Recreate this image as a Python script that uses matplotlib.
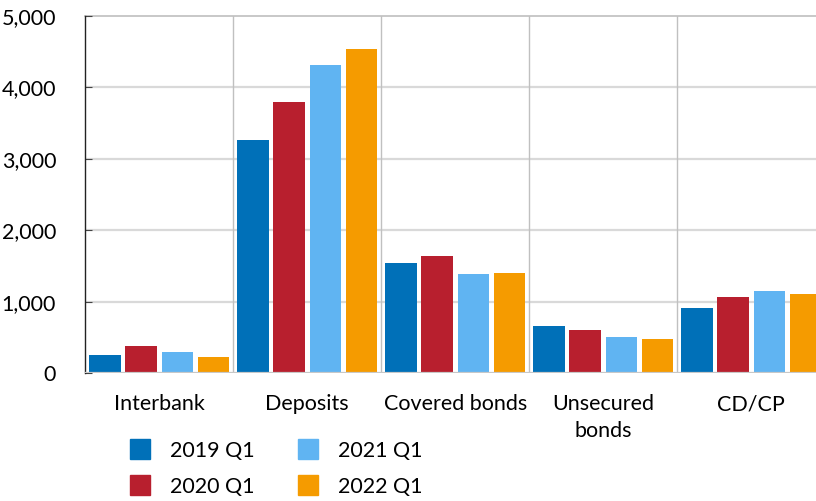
import matplotlib
matplotlib.use("Agg")
import matplotlib.pyplot as plt
from matplotlib.lines import Line2D
import numpy as np

plt.rcParams['font.family'] = ['Lato', 'DejaVu Sans']

categories = ["Interbank", "Deposits", "Covered bonds", "Unsecured\nbonds", "CD/CP"]
periods = ["2019 Q1", "2020 Q1", "2021 Q1", "2022 Q1"]
colors = ["#0070B8", "#B81F2E", "#60B4F2", "#F59B00"]

v2019 = [252, 3263, 1541, 658, 910]
v2020 = [378, 3790, 1643, 611, 1069]
v2021 = [294, 4308, 1395, 513, 1157]
v2022 = [224, 4538, 1401, 480, 1115]
series = [v2019, v2020, v2021, v2022]

fig = plt.figure(figsize=(8.16, 5.01), dpi=100)
ax = fig.add_axes([85.3 / 816, 127.7 / 501, 740 / 816, 357.3 / 501])

x = np.arange(len(categories))
step = 0.245
width = 0.213
for i, (vals, col) in enumerate(zip(series, colors)):
    ax.bar(x + (i - 1.5) * step, vals, width, color=col, zorder=3)

ax.set_xlim(-0.5, len(categories) - 0.5)
ax.set_ylim(0, 5000)
ax.set_yticks(range(0, 5001, 1000))
ax.set_yticklabels([f"{v:,}" for v in range(0, 5001, 1000)], fontsize=15.5)

# grid: light horizontals, darker top line and category separators
for v in range(1000, 5000, 1000):
    ax.axhline(v, color="#d9d9d9", lw=1.6, zorder=1)
ax.axhline(5000, color="#bfbfbf", lw=1.2, zorder=1, clip_on=False)
ax.axhline(0, color="#c8c8c8", lw=1.6, zorder=4)
for b in np.arange(0.5, len(categories) - 0.5):
    ax.axvline(b, color="#c0c0c0", lw=1.0, zorder=1)

for s in ["top", "right", "bottom"]:
    ax.spines[s].set_visible(False)
ax.spines["left"].set_color("#222222")
ax.spines["left"].set_linewidth(1.0)

ax.tick_params(axis="y", direction="in", length=5, color="#444444", pad=21)
ax.set_xticks(x)
ax.set_xticklabels(categories, fontsize=15.5, linespacing=1.45, va="top")
ax.tick_params(axis="x", length=0, pad=15)

handles = [Line2D([], [], marker="s", ls="none", markersize=15, color=c) for c in colors]
fig.legend(handles, periods, ncol=2, frameon=False, fontsize=15.5,
           loc="upper left", bbox_to_anchor=(118 / 816, 1 - 432 / 501),
           handletextpad=0.8, columnspacing=1.9, labelspacing=0.75,
           borderaxespad=0, handlelength=1.2)

fig.savefig("out.png", dpi=100)
